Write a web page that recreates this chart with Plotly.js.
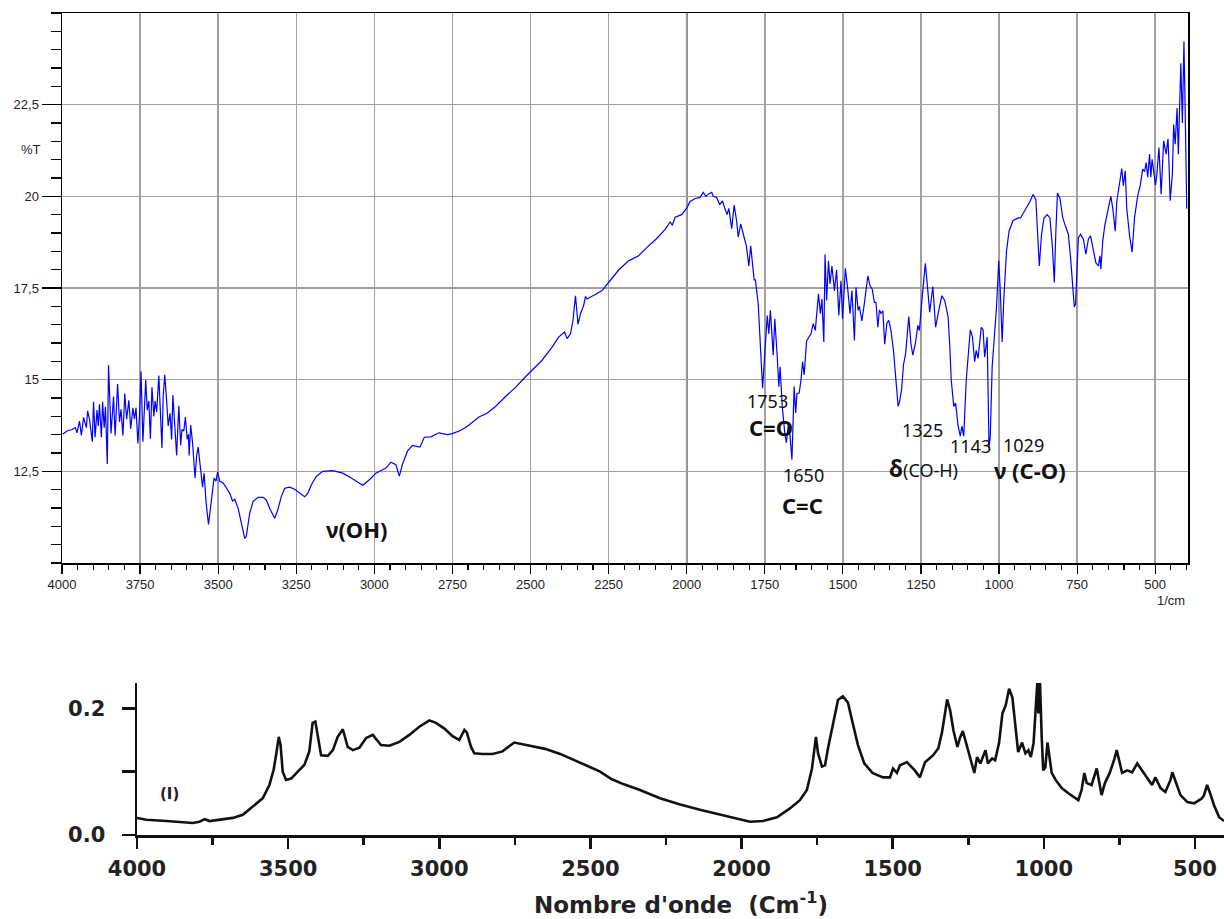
<!DOCTYPE html>
<html><head><meta charset="utf-8">
<script src="https://cdn.plot.ly/plotly-3.0.1.min.js"></script>
<style>html,body{margin:0;padding:0;background:#fff}#chart{width:1224px;height:919px}</style>
</head><body><div id="chart"></div>
<script>
// ---- Top spectrum: transmittance (%T) vs wavenumber (1/cm)
const irWavenumber = [3998,3984,3968,3957,3952,3944,3938,3931,3922,3918,3912,3903,3899,3894,3888,3884,3880,3874,3870,3865,3861,3855,3851,3843,3835,3830,3822,3816,3811,3805,3799,3793,3786,3780,3773,3768,3763,3757,3752,3747,3741,3737,3732,3727,3722,3717,3712,3706,3702,3697,3690,3684,3680,3676,3671,3665,3660,3654,3649,3645,3638,3633,3626,3620,3616,3610,3605,3599,3595,3593,3588,3582,3574,3569,3564,3559,3553,3550,3545,3539,3531,3521,3513,3507,3502,3495,3484,3473,3463,3454,3447,3436,3426,3415,3410,3399,3388,3372,3356,3346,3333,3319,3309,3298,3287,3271,3255,3239,3223,3213,3202,3186,3165,3133,3101,3074,3053,3037,3016,2995,2963,2947,2931,2920,2910,2894,2878,2862,2854,2840,2819,2793,2766,2750,2723,2702,2665,2638,2612,2580,2548,2516,2495,2463,2431,2410,2391,2383,2372,2364,2356,2348,2340,2330,2324,2319,2293,2271,2250,2218,2186,2154,2128,2096,2069,2053,2046,2037,2016,2000,1989,1973,1957,1947,1939,1931,1920,1915,1904,1894,1886,1878,1871,1865,1856,1848,1840,1835,1827,1819,1809,1801,1795,1784,1780,1771,1766,1757,1750,1742,1737,1732,1723,1718,1710,1705,1701,1694,1686,1681,1675,1669,1663,1656,1651,1647,1640,1634,1629,1624,1616,1608,1602,1595,1588,1586,1578,1572,1567,1561,1557,1552,1546,1541,1535,1527,1520,1513,1506,1501,1492,1485,1477,1471,1463,1458,1451,1447,1439,1431,1420,1413,1406,1399,1394,1388,1383,1378,1372,1366,1359,1353,1346,1338,1329,1323,1319,1312,1306,1299,1289,1282,1276,1268,1260,1255,1246,1236,1228,1222,1212,1203,1192,1183,1174,1163,1158,1153,1145,1139,1131,1124,1119,1113,1105,1099,1092,1085,1078,1073,1067,1057,1051,1046,1038,1032,1028,1022,1014,1008,1001,996,990,985,976,968,955,939,931,925,912,901,891,882,878,871,864,856,846,837,829,823,818,813,805,796,789,778,771,764,759,755,751,746,739,730,722,714,707,698,690,682,677,674,668,661,653,642,636,628,623,614,607,602,596,591,582,574,566,556,548,540,534,529,524,518,514,510,505,499,495,488,481,473,465,459,456,452,445,441,436,430,426,422,418,413,408,404,399,396];
const irTransmittance = [13.51,13.6,13.64,13.69,13.55,13.87,13.48,13.97,13.69,14.15,13.92,13.31,14.4,13.43,14.17,13.74,14.33,13.43,14.4,13.69,14.26,12.70,15.40,13.53,14.54,13.48,14.88,13.85,14.19,13.48,14.62,13.92,14.44,13.66,14.23,13.92,14.23,13.26,14.01,15.23,13.31,14.29,14.99,14.17,14.42,13.39,14.79,14.0,14.42,14.12,15.11,13.92,13.14,14.56,15.13,14.42,13.74,14.08,13.37,14.58,13.69,12.93,14.29,13.21,13.64,13.6,13.98,13.37,13.51,12.93,13.76,13.28,12.32,12.93,13.16,12.77,12.45,12.07,12.45,11.68,11.05,11.86,12.32,12.23,12.48,12.23,12.18,12.04,11.9,11.69,11.74,11.49,11.08,10.67,10.73,11.36,11.68,11.79,11.79,11.72,11.45,11.22,11.45,11.81,12.04,12.07,12.01,11.9,11.81,11.9,12.13,12.36,12.5,12.52,12.45,12.32,12.21,12.12,12.27,12.45,12.59,12.75,12.68,12.37,12.69,13.05,13.21,13.19,13.16,13.43,13.44,13.55,13.5,13.53,13.62,13.73,13.98,14.09,14.27,14.54,14.79,15.08,15.26,15.53,15.89,16.16,16.3,16.12,16.25,16.62,17.29,16.51,16.8,17.02,17.27,17.2,17.32,17.43,17.65,17.99,18.24,18.38,18.6,18.85,19.1,19.3,19.21,19.43,19.5,19.68,19.86,19.94,19.97,20.11,20.0,20.06,20.11,20.0,19.97,19.77,19.88,19.67,19.5,19.67,19.12,19.76,19.32,18.89,19.25,18.98,18.65,18.1,18.65,17.72,17.72,17.07,16.16,14.77,15.71,16.75,16.25,16.89,15.67,16.66,15.62,14.81,15.35,14.27,13.55,13.28,13.73,13.46,12.82,14.81,14.09,14.63,14.63,14.99,15.49,15.13,16.06,16.16,16.25,16.53,16.34,16.57,17.34,16.8,17.2,16.03,18.42,17.16,18.24,17.61,18.1,17.43,17.99,16.75,17.7,16.66,18.04,17.52,16.8,17.43,16.07,17.52,16.89,17.0,16.6,17.09,17.83,17.56,17.47,17.11,17.11,16.43,16.9,16.81,16.88,15.97,16.54,16.62,16.34,15.8,14.95,14.27,14.38,14.72,15.4,15.71,16.72,15.98,15.67,15.98,16.48,16.34,17.25,18.17,17.43,16.84,17.54,16.43,16.93,17.29,17.16,16.71,15.98,14.99,14.27,14.36,13.73,13.46,13.73,13.46,14.99,15.71,16.36,16.16,15.49,15.8,15.58,16.43,16.36,15.62,16.16,13.14,13.46,15.35,16.25,16.98,18.24,17.43,16.03,17.16,18.51,19.05,19.34,19.41,19.41,19.5,19.68,19.86,20.05,19.91,19.23,18.1,18.96,19.41,19.5,19.41,18.6,17.65,19.05,20.09,19.95,19.41,19.23,18.96,18.33,17.52,16.98,17.07,18.1,18.87,18.96,18.83,18.42,18.83,18.92,18.56,18.19,18.1,18.38,18.01,18.78,19.23,19.55,20.0,19.68,19.05,19.86,20.41,20.76,20.29,20.7,19.66,18.93,18.48,19.43,20.02,20.29,20.74,20.67,20.92,20.52,21.15,20.52,21.01,20.61,20.31,20.56,21.33,20.06,21.51,21.15,21.57,20.92,19.88,20.61,21.96,21.42,22.41,21.15,22.37,23.63,22.0,24.22,22.32,19.66];

// ---- Bottom spectrum: absorbance vs wavenumber (Cm-1)
const absWavenumber = [4000,3969,3903,3848,3815,3793,3776,3760,3727,3683,3650,3617,3584,3562,3548,3540,3531,3525,3518,3507,3490,3468,3446,3430,3419,3410,3402,3391,3369,3352,3336,3319,3303,3286,3264,3242,3220,3193,3165,3132,3099,3066,3033,3011,2983,2956,2934,2917,2909,2895,2884,2857,2824,2791,2752,2700,2650,2600,2550,2500,2468,2429,2389,2336,2270,2203,2138,2071,2028,1972,1929,1883,1840,1807,1784,1767,1754,1747,1734,1724,1714,1698,1681,1665,1648,1632,1615,1594,1567,1532,1509,1499,1486,1476,1453,1427,1410,1393,1377,1366,1349,1337,1327,1320,1310,1299,1286,1277,1268,1254,1241,1230,1221,1210,1193,1185,1171,1161,1148,1137,1126,1115,1104,1093,1085,1072,1061,1051,1043,1034,1025,1021,1018,1013,1007,1002,995,988,983,974,961,941,919,897,886,875,866,858,842,825,814,809,798,782,766,759,751,741,724,708,691,675,658,642,631,614,598,581,575,564,548,525,503,486,477,470,460,450,437,420,404];
const absAbsorbance = [0.027,0.024,0.022,0.020,0.019,0.021,0.025,0.022,0.024,0.027,0.032,0.045,0.058,0.079,0.103,0.126,0.155,0.142,0.100,0.087,0.089,0.100,0.111,0.132,0.177,0.179,0.155,0.126,0.125,0.134,0.155,0.167,0.139,0.134,0.138,0.153,0.158,0.142,0.141,0.147,0.158,0.171,0.181,0.177,0.168,0.156,0.150,0.166,0.162,0.139,0.129,0.128,0.128,0.132,0.146,0.141,0.136,0.128,0.118,0.107,0.100,0.088,0.080,0.071,0.058,0.048,0.040,0.032,0.027,0.021,0.022,0.028,0.042,0.055,0.071,0.105,0.155,0.129,0.108,0.110,0.137,0.176,0.213,0.219,0.209,0.176,0.142,0.113,0.098,0.091,0.091,0.105,0.098,0.110,0.115,0.102,0.091,0.115,0.121,0.126,0.137,0.162,0.192,0.214,0.197,0.165,0.139,0.154,0.164,0.139,0.118,0.098,0.123,0.113,0.134,0.113,0.121,0.118,0.146,0.192,0.205,0.231,0.217,0.165,0.131,0.146,0.129,0.134,0.123,0.145,0.202,0.245,0.192,0.245,0.154,0.102,0.107,0.146,0.129,0.098,0.087,0.074,0.066,0.058,0.055,0.071,0.098,0.082,0.079,0.105,0.079,0.063,0.082,0.098,0.121,0.134,0.118,0.098,0.102,0.099,0.113,0.102,0.090,0.079,0.091,0.074,0.068,0.087,0.099,0.083,0.063,0.052,0.050,0.055,0.058,0.063,0.079,0.066,0.047,0.028,0.022];

// ---- Tick labels
const topYTickVals = [12.5, 15, 17.5, 20, 22.5];
const topYTickText = ['12,5', '15', '17,5', '20', '22,5'];
const botYTickVals = [0, 0.2];
const botYTickText = ['0.0', '0.2'];
const botXTickVals = [4000, 3500, 3000, 2500, 2000, 1500, 1000, 500];
const botXTickText = ['4000', '3500', '3000', '2500', '2000', '1500', '1000', '500'];

// pixel -> paper helpers (plot area: left 62, right 1224, top 13, bottom 835)
const L = 62, W = 1162, B = 835, H = 822;
const fx = px => (px - L) / W;
const fy = py => (B - py) / H;

const traces = [
  {x: irWavenumber, y: irTransmittance, xaxis: 'x', yaxis: 'y', type: 'scatter', mode: 'lines',
   line: {color: '#0000ff', width: 1.2}, hoverinfo: 'skip'},
  {x: absWavenumber, y: absAbsorbance, xaxis: 'x2', yaxis: 'y2', type: 'scatter', mode: 'lines',
   line: {color: '#111111', width: 2.6}, hoverinfo: 'skip'}
];

const tickFont = {family: 'Liberation Sans, Arial, sans-serif', size: 13, color: '#222'};
const noto = (s, c) => ({family: 'Noto Sans, sans-serif', size: s, color: c || '#111'});
const botTickFont = {family: 'DejaVu Sans, sans-serif', size: 21, color: '#222', weight: 'bold'};

function ann(px, py, text, font, xa, ya) {
  return {xref: 'paper', yref: 'paper', x: fx(px), y: fy(py), text: text, showarrow: false,
          xanchor: xa || 'center', yanchor: ya || 'middle', font: font};
}

const layout = {
  width: 1224, height: 919,
  margin: {l: 62, r: 0, t: 13, b: 84, pad: 0},
  paper_bgcolor: '#fff', plot_bgcolor: '#fff',
  showlegend: false,
  xaxis: {
    domain: [0, 1126 / 1162], range: [4000, 395], anchor: 'y',
    tickmode: 'linear', tick0: 0, dtick: 250,
    ticks: 'outside', ticklen: 9, tickwidth: 1.2, tickcolor: '#000',
    minor: {dtick: 50, tick0: 0, ticks: 'outside', ticklen: 5, tickwidth: 1.1, tickcolor: '#000', showgrid: false},
    showgrid: true, gridcolor: '#a0a0a0', gridwidth: 1.5,
    showline: true, linecolor: '#000', linewidth: 1.5, mirror: true,
    zeroline: false, tickfont: tickFont
  },
  yaxis: {
    domain: [(835 - 563) / 822, 1], range: [10, 25], anchor: 'x',
    tickmode: 'array', tickvals: topYTickVals, ticktext: topYTickText,
    ticks: 'outside', ticklen: 19, tickwidth: 1.2, tickcolor: '#000',
    minor: {dtick: 0.5, tick0: 10, ticks: 'outside', ticklen: 10, tickwidth: 1.1, tickcolor: '#000', showgrid: false},
    showgrid: true, gridcolor: '#a0a0a0', gridwidth: 1.5,
    showline: true, linecolor: '#000', linewidth: 1.5, mirror: true,
    zeroline: false, tickfont: tickFont
  },
  xaxis2: {
    domain: [75 / 1162, 1], range: [4000, 404], anchor: 'y2',
    tickmode: 'array', tickvals: botXTickVals, ticktext: botXTickText,
    ticks: 'outside', ticklen: 11, tickwidth: 2.5, tickcolor: '#111',
    minor: {dtick: 250, tick0: 0, ticks: 'outside', ticklen: 7, tickwidth: 2.5, tickcolor: '#111', showgrid: false},
    showgrid: false, showline: true, linecolor: '#111', linewidth: 2.5,
    zeroline: false, tickfont: botTickFont, ticklabelstandoff: 2
  },
  yaxis2: {
    domain: [0, 152 / 822], range: [0, 0.24], anchor: 'x2',
    tickmode: 'array', tickvals: botYTickVals, ticktext: botYTickText,
    ticks: 'outside', ticklen: 13, tickwidth: 2.5, tickcolor: '#111',
    minor: {dtick: 0.1, tick0: 0, ticks: 'outside', ticklen: 13, tickwidth: 2.5, tickcolor: '#111', showgrid: false},
    showgrid: false, showline: true, linecolor: '#111', linewidth: 2.5,
    zeroline: false, tickfont: botTickFont, ticklabelstandoff: 12
  },
  shapes: [
    {type: 'line', xref: 'x', yref: 'y', x0: 2000, x1: 2000, y0: 10, y1: 25, line: {color: '#000', width: 1.5}, layer: 'below'}
  ],
  annotations: [
    ann(31, 150, '%T', tickFont),
    ann(1187, 600, '1/cm', tickFont, 'right'),
    ann(357, 529, '<b>ν(OH)</b>', noto(22)),
    ann(767, 401, '1753', noto(18)),
    ann(771, 427, '<b>C=O</b>', noto(22)),
    ann(803, 475, '1650', noto(18)),
    ann(802, 505, '<b>C=C</b>', noto(22)),
    ann(922, 430, '1325', noto(18)),
    ann(970, 446, '1143', noto(18)),
    ann(1023, 445, '1029', noto(18)),
    ann(923, 468, '<b style="font-size:23px">δ</b><span style="font-size:18px">(CO-H)</span>', noto(20)),
    ann(1030, 470, '<b>ν (C-O)</b>', noto(22)),
    ann(169, 794, '<b>(I)</b>', {family: 'DejaVu Sans, sans-serif', size: 15, color: '#222'}),
    ann(681, 903, '<b>Nombre d\'onde  (Cm<sup>-1</sup>)</b>', {family: 'DejaVu Sans, sans-serif', size: 23, color: '#222'})
  ]
};

Plotly.newPlot('chart', traces, layout, {staticPlot: true, displayModeBar: false});
</script>
</body></html>
